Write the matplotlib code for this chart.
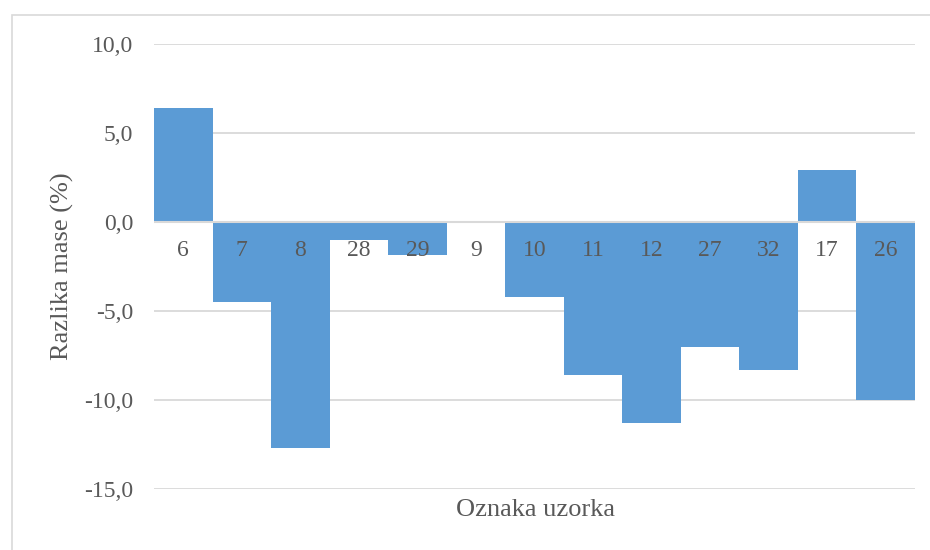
"""Razlika mase po uzorcima - stupčasti dijagram bez razmaka."""

import matplotlib

matplotlib.use("Agg")
import matplotlib.pyplot as plt
from matplotlib.patches import Rectangle
from matplotlib.ticker import FuncFormatter, MultipleLocator

samples = ["6", "7", "8", "28", "29", "9", "10", "11", "12", "27", "32", "17", "26"]
mass_diff = [6.4, -4.5, -12.7, -1.0, -1.85, 0.0, -4.2, -8.6, -11.3, -7.0, -8.3, 2.9, -10.0]

BAR_COLOR = "#5B9BD5"
TEXT_COLOR = "#595959"
GRID_COLOR = "#D9D9D9"

plt.rcParams["font.family"] = ["Liberation Serif", "STIX Two Text", "DejaVu Serif"]


def main() -> None:
    fig = plt.figure(figsize=(9.3, 5.5), dpi=100)
    ax = fig.add_axes([0.1656, 0.1104, 0.8183, 0.8101])

    x = list(range(len(samples)))
    ax.bar(x, mass_diff, width=1.0, color=BAR_COLOR, linewidth=0, zorder=2)

    ax.set_xlim(-0.5, len(samples) - 0.5)
    ax.set_ylim(-15, 10)
    ax.yaxis.set_major_locator(MultipleLocator(5))
    ax.yaxis.set_major_formatter(
        FuncFormatter(lambda v, _: f"{v:.1f}".replace(".", ","))
    )
    ax.grid(axis="y", color=GRID_COLOR, linewidth=1.3, zorder=0)
    ax.axhline(0, color=GRID_COLOR, linewidth=1.5, zorder=3)

    ax.set_xticks([])
    ax.tick_params(axis="y", length=0, pad=15, labelsize=17, labelcolor=TEXT_COLOR)
    for spine in ax.spines.values():
        spine.set_visible(False)

    # category labels sit just under the zero line, like Excel's "next to axis"
    for xi, name in zip(x, samples):
        ax.annotate(
            name,
            xy=(xi, 0),
            xytext=(0, -29),
            textcoords="offset pixels",
            ha="center",
            va="center",
            fontsize=17,
            color=TEXT_COLOR,
            zorder=4,
        )

    fig.text(62 / 930, 1 - 266 / 550, "Razlika mase (%)", rotation=90,
             ha="center", va="center", fontsize=19, color=TEXT_COLOR)
    fig.text(535 / 930, 1 - 510 / 550, "Oznaka uzorka",
             ha="center", va="center", fontsize=19, color=TEXT_COLOR)

    # chart-area border, clipped at right and bottom edges
    fig.patches.append(
        Rectangle((12 / 930, -0.1), 1.2, 0.1 + (1 - 15 / 550),
                  transform=fig.transFigure, fill=False,
                  edgecolor=GRID_COLOR, linewidth=1.2)
    )

    fig.savefig("out.png", dpi=100)
    plt.close(fig)


if __name__ == "__main__":
    main()
